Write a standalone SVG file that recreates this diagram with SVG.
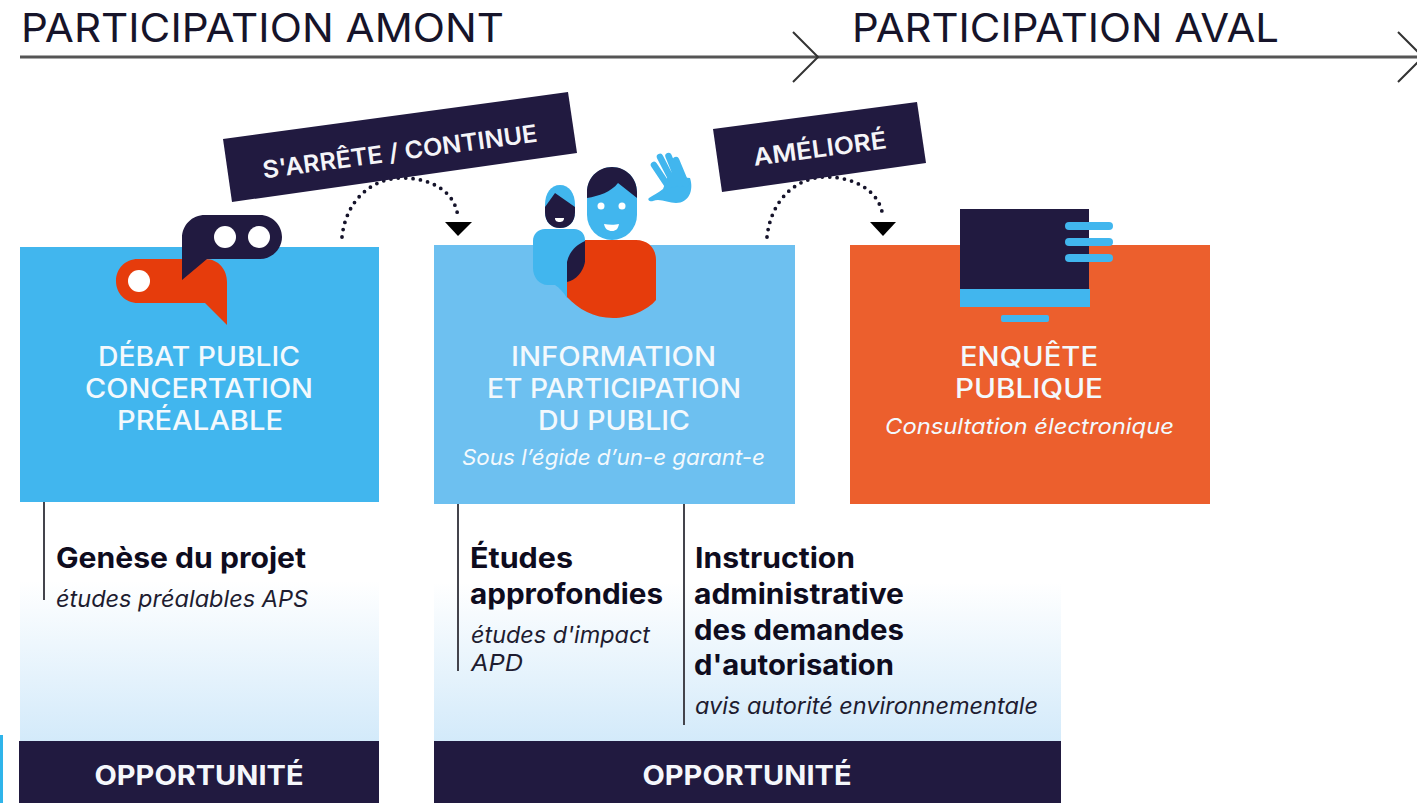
<svg xmlns="http://www.w3.org/2000/svg" width="1417" height="803" viewBox="0 0 1417 803">
<style>
text{font-family:Inter,"Liberation Sans",sans-serif}
.title{font-size:39px;font-weight:400;fill:#16142a}
.box{font-size:27px;font-weight:500;fill:#f3f9fd;text-anchor:middle}
.sub{font-size:22px;font-style:italic;font-weight:400;fill:#f3f9fd;text-anchor:middle}
.h{font-size:28px;font-weight:700;fill:#0e0c1e}
.it{font-size:23px;font-style:italic;font-weight:400;fill:#1e1c30}
.bar{font-size:27px;font-weight:700;fill:#f5f7fb;text-anchor:middle}
.ban{font-size:24px;font-weight:600;fill:#f5f5f8;text-anchor:middle}
.dark{fill:#211a40}.sky{fill:#41b6ee}.red{fill:#e63c0c}.w{fill:#fff}
.rule{stroke:#44444c;stroke-width:2;fill:none}
.dots{stroke:#15132a;stroke-width:3.8;stroke-linecap:round;stroke-dasharray:0 7.4;fill:none}
.chev{stroke:#333;stroke-width:2;fill:none}
.finger{stroke:#41b6ee;stroke-width:6.5;stroke-linecap:round;fill:none}
</style>
<defs>
<linearGradient id="fade" x1="0" y1="0" x2="0" y2="1">
<stop offset="0.33" stop-color="#fff"/><stop offset="1" stop-color="#d3eafa"/>
</linearGradient>
</defs>
<rect width="1417" height="803" fill="#fff"/>
<rect x="0" y="735" width="3" height="68" fill="#2fb4ea"/>

<g id="panel-left"><rect x="20" y="502" width="359" height="239" fill="url(#fade)"/></g>
<g id="panel-right"><rect x="434" y="504" width="627" height="237" fill="url(#fade)"/></g>

<g id="connectors">
<line x1="20" y1="57" x2="1417" y2="57" stroke="#555" stroke-width="3"/>
<path class="chev" d="M793 32L818 57L793 82"/>
<path class="chev" d="M1398 32L1423 57L1398 82"/>
<path class="dots" d="M342 237C346 200 372 178 402 178C432 178 456 192 458 218"/>
<path d="M445 222H472L458 236Z" fill="#000"/>
<path class="dots" d="M767 237C771 200 796 177 826 177C856 177 881 192 883 218"/>
<path d="M870 222H896L883 236Z" fill="#000"/>
<line class="rule" x1="44" y1="502" x2="44" y2="600"/>
<line class="rule" x1="458" y1="504" x2="458" y2="671"/>
<line class="rule" x1="684" y1="504" x2="684" y2="725"/>
</g>

<g id="title-amont"><text class="title" x="21" y="42" textLength="483" lengthAdjust="spacingAndGlyphs">PARTICIPATION AMONT</text></g>
<g id="title-aval"><text class="title" x="852" y="42" textLength="427" lengthAdjust="spacingAndGlyphs">PARTICIPATION AVAL</text></g>

<g id="node-debat">
<rect x="20" y="247" width="359" height="255" class="sky"/>
<path class="red" d="M138 259H205C219 259 227 270 227 282V325L205 303H138C125 303 116 293 116 281C116 269 125 259 138 259Z"/>
<circle cx="139" cy="281" r="11" class="w"/>
<path class="dark" d="M182 238C182 225 192 215 205 215H260C272 215 282 225 282 237C282 249 272 259 260 259H207L182 280Z"/>
<circle cx="225" cy="237" r="11" class="w"/>
<circle cx="259" cy="237" r="11" class="w"/>
<text class="box" x="199" y="366" textLength="202" lengthAdjust="spacingAndGlyphs">DÉBAT PUBLIC</text>
<text class="box" x="199" y="398" textLength="228" lengthAdjust="spacingAndGlyphs">CONCERTATION</text>
<text class="box" x="200" y="430" textLength="166" lengthAdjust="spacingAndGlyphs">PRÉALABLE</text>
</g>

<g id="node-information">
<rect x="434" y="245" width="361" height="259" fill="#6dc0f0"/>
<path class="sky" d="M545 229H574C581 229 585 234 585 240V285L567 298C563 292 560 288 555 285H548C539 285 533 277 533 268V241C533 234 538 229 545 229Z"/>
<path class="sky" d="M545 205C545 193 551 185 560 185C569 185 575 193 575 205V212C575 222 569 228 560 228C551 228 545 222 545 212Z"/>
<path class="dark" d="M545 207L555 193L575 207V212C575 222 569 228 560 228C551 228 545 222 545 212Z"/>
<path class="w" d="M555 218H564C564 221 562 222 559.500 222C557 222 555 221 555 218Z"/>
<path class="red" d="M585 240H636C648 240 656 248 656 260V300C648 310 630 318 613 318C594 318 578 309 567 297V282L585 262Z"/>
<path class="dark" d="M585 241V262C583 272 576 280 567 282V262C569 252 576 245 585 241Z"/>
<rect x="587" y="167" width="50" height="73" rx="25" class="sky"/>
<path class="dark" d="M587 198V192C587 178 598 167 612 167C626 167 637 178 637 192V198L618 183C611 192 599 196 587 198Z"/>
<circle cx="601" cy="206" r="3.500" class="w"/>
<circle cx="622" cy="206" r="3.500" class="w"/>
<path class="w" d="M604 224C609 225 615 225 619 224C618 229 616 231 612 231C608 231 605 229 604 224Z"/>
<path class="sky" d="M649 198C653 195 658 193 663 189L668 176L690 178C694 190 689 203 676 203C668 203 660 198 653 201C650 202 647 200 649 198Z"/>
<path class="finger" d="M654 165L668 186M660 157L674 184M668.500 156L680 184M676 160L686 184"/>
<text class="box" x="613.500" y="366" textLength="205" lengthAdjust="spacingAndGlyphs">INFORMATION</text>
<text class="box" x="614" y="398" textLength="254" lengthAdjust="spacingAndGlyphs">ET PARTICIPATION</text>
<text class="box" x="614" y="430" textLength="152" lengthAdjust="spacingAndGlyphs">DU PUBLIC</text>
<text class="sub" x="613.500" y="465" textLength="303" lengthAdjust="spacingAndGlyphs">Sous l’égide d’un-e garant-e</text>
</g>

<g id="node-enquete">
<rect x="850" y="245" width="360" height="259" fill="#ec5f2d"/>
<rect x="960" y="209" width="129" height="80" class="dark"/>
<rect x="960" y="289" width="130" height="18" class="sky"/>
<rect x="1001" y="315" width="48" height="7" rx="2" class="sky"/>
<rect x="1065" y="222" width="48" height="8" rx="4" class="sky"/>
<rect x="1065" y="238" width="48" height="8" rx="4" class="sky"/>
<rect x="1065" y="254" width="48" height="8" rx="4" class="sky"/>
<text class="box" x="1029" y="366" textLength="138" lengthAdjust="spacingAndGlyphs">ENQUÊTE</text>
<text class="box" x="1029" y="398" textLength="148" lengthAdjust="spacingAndGlyphs">PUBLIQUE</text>
<text class="sub" x="1029.500" y="434" textLength="289" lengthAdjust="spacingAndGlyphs">Consultation électronique</text>
</g>

<g id="banner-arrete">
<polygon class="dark" points="223,139 568,92 577,153 232,202"/>
<text class="ban" transform="translate(401,160) rotate(-7.700)" textLength="277" lengthAdjust="spacingAndGlyphs">S'ARRÊTE / CONTINUE</text>
</g>
<g id="banner-ameliore">
<polygon class="dark" points="713,129 917,102 926,163 722,192"/>
<text class="ban" transform="translate(821,157) rotate(-7.600)" textLength="134" lengthAdjust="spacingAndGlyphs">AMÉLIORÉ</text>
</g>

<g id="node-genese">
<text class="h" x="56" y="568" textLength="250" lengthAdjust="spacingAndGlyphs">Genèse du projet</text>
<text class="it" x="56" y="607" textLength="252" lengthAdjust="spacingAndGlyphs">études préalables APS</text>
</g>
<g id="node-etudes">
<text class="h" x="470" y="568" textLength="103" lengthAdjust="spacingAndGlyphs">Études</text>
<text class="h" x="470" y="604" textLength="193" lengthAdjust="spacingAndGlyphs">approfondies</text>
<text class="it" x="471" y="643" textLength="179" lengthAdjust="spacingAndGlyphs">études d'impact</text>
<text class="it" x="471" y="671" textLength="52" lengthAdjust="spacingAndGlyphs">APD</text>
</g>
<g id="node-instruction">
<text class="h" x="695" y="568" textLength="160" lengthAdjust="spacingAndGlyphs">Instruction</text>
<text class="h" x="694" y="604" textLength="210" lengthAdjust="spacingAndGlyphs">administrative</text>
<text class="h" x="694" y="640" textLength="210" lengthAdjust="spacingAndGlyphs">des demandes</text>
<text class="h" x="694" y="675" textLength="200" lengthAdjust="spacingAndGlyphs">d'autorisation</text>
<text class="it" x="695" y="714" textLength="343" lengthAdjust="spacingAndGlyphs">avis autorité environnementale</text>
</g>
<g id="node-opportunite-1">
<rect x="19" y="741" width="360" height="62" class="dark"/>
<text class="bar" x="199" y="785" textLength="209" lengthAdjust="spacingAndGlyphs">OPPORTUNITÉ</text>
</g>
<g id="node-opportunite-2">
<rect x="434" y="741" width="627" height="62" class="dark"/>
<text class="bar" x="747" y="785" textLength="209" lengthAdjust="spacingAndGlyphs">OPPORTUNITÉ</text>
</g>
</svg>
